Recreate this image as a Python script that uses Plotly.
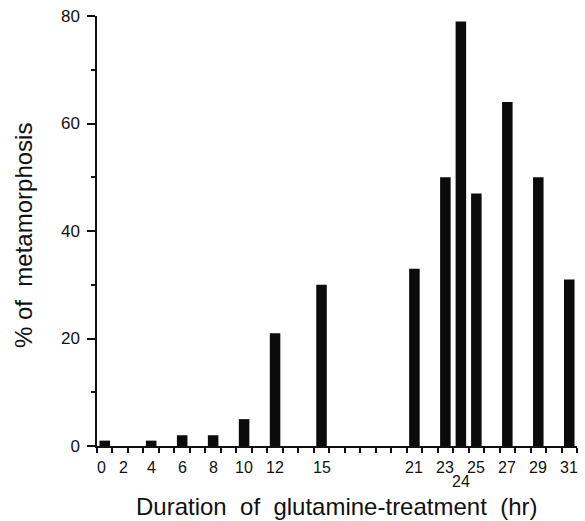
import plotly.graph_objects as go

# ---- data ----
hours = [0, 4, 6, 8, 10, 12, 15, 21, 23, 24, 25, 27, 29, 31]
percent_metamorphosis = [1, 1, 2, 2, 5, 21, 30, 33, 50, 79, 47, 64, 50, 31]
tick_hours = [0, 2, 4, 6, 8, 10, 12, 15, 21, 23, 24, 25, 27, 29, 31]
tick_labels = ["0", "2", "4", "6", "8", "10", "12", "15", "21", "23", "24", "25", "27", "29", "31"]
y_tick_values = [0, 20, 40, 60, 80]

# ---- styling / layout ----
FONT = "Liberation Sans, Arial, Helvetica, sans-serif"
X_RANGE = [0.5, 31.5]
BAR_W = 0.68
# the 0-hour bar is drawn in the first slot, just right of the y axis (as in the original)
slot_shift = {0: 1.0}
offsets = [-BAR_W / 2 + slot_shift.get(h, 0.0) for h in hours]
# squeezed label placement at the start of the axis (as in the original)
label_nudge = {0: 0.82, 2: 2.24}
# labels dropped to a second row to avoid crowding
label_drop = {"24": -35}
# hour-slot boundary ticks along the x axis
slot_edges = [X_RANGE[0] + k for k in range(int(X_RANGE[1] - X_RANGE[0]) + 1)]

fig = go.Figure()
fig.add_trace(go.Bar(
    x=hours,
    y=percent_metamorphosis,
    width=BAR_W,
    offset=offsets,
    marker=dict(color="#0b0b0b", line=dict(width=0)),
    hoverinfo="x+y",
))

annotations = []
for h, t in zip(tick_hours, tick_labels):
    annotations.append(dict(
        text=t, xref="x", yref="paper", x=label_nudge.get(h, h), y=0,
        xanchor="center", yanchor="middle", yshift=label_drop.get(t, -21),
        showarrow=False, font=dict(size=16, family=FONT, color="#111"),
    ))
annotations += [
    dict(text="Duration\u00a0\u00a0of\u00a0\u00a0glutamine-treatment\u00a0\u00a0(hr)",
         xref="paper", yref="paper", x=0.5, y=0, xanchor="center", yanchor="top",
         yshift=-45, showarrow=False, font=dict(size=24, family=FONT, color="#111")),
    dict(text="%\u00a0of\u00a0\u00a0metamorphosis",
         xref="paper", yref="paper", x=0, y=0.5, xanchor="center", yanchor="middle",
         xshift=-74, yshift=-5, textangle=-90, showarrow=False,
         font=dict(size=24, family=FONT, color="#111")),
]

fig.update_layout(
    width=585, height=521,
    margin=dict(l=97, r=8, t=16, b=75),
    paper_bgcolor="white", plot_bgcolor="white",
    showlegend=False,
    font=dict(family=FONT, color="#111", size=16),
    xaxis=dict(
        type="linear",
        range=X_RANGE,
        tickmode="array", tickvals=slot_edges, ticktext=[""] * len(slot_edges),
        showticklabels=True,
        ticks="outside", ticklen=5, tickwidth=1.5, tickcolor="#111",
        showgrid=False, zeroline=False,
        showline=True, linecolor="#111", linewidth=1.5,
        fixedrange=True,
    ),
    yaxis=dict(
        range=[0, 80],
        tickmode="array", tickvals=y_tick_values,
        ticks="outside", ticklen=8, tickwidth=1.5, tickcolor="#111",
        showgrid=False, zeroline=False,
        showline=True, linecolor="#111", linewidth=1.5,
        tickfont=dict(size=17, family=FONT, color="#111"),
        ticklabelstandoff=4,
        minor=dict(tick0=0, dtick=10, ticks="outside", ticklen=4,
                   tickwidth=1.5, tickcolor="#111", showgrid=False),
        fixedrange=True,
    ),
    annotations=annotations,
)

fig.write_html("out.html")
